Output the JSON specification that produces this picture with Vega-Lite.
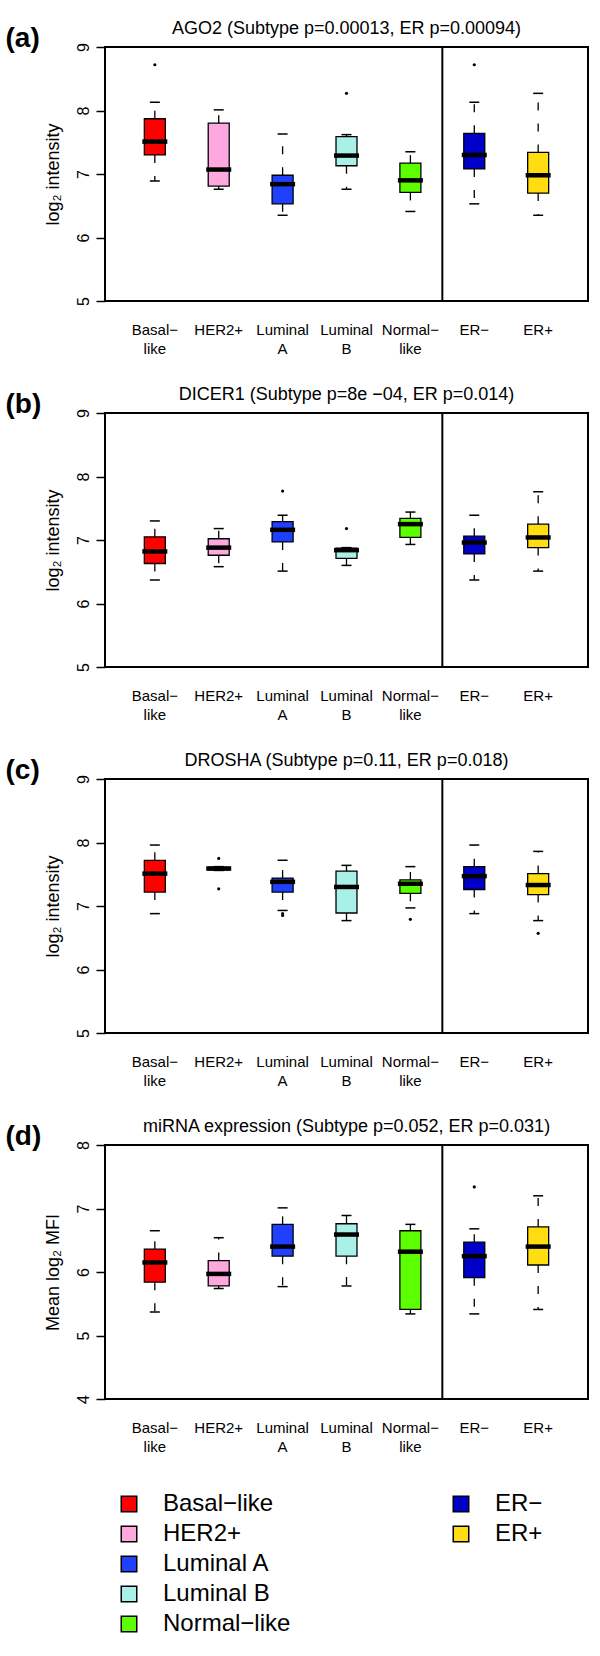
{
 "$schema": "https://vega.github.io/schema/vega-lite/v6.json",
 "padding": {"left": 4, "top": 19, "right": 5, "bottom": 5},
 "background": "white",
 "bounds": "flush",
 "spacing": 112,
 "datasets": {
  "boxes": [
   {"panel":"a","cat":"Basal−like","lo":6.89,"q1":7.30,"med":7.51,"q3":7.87,"hi":8.13},
   {"panel":"a","cat":"HER2+","lo":6.76,"q1":6.81,"med":7.07,"q3":7.80,"hi":8.01},
   {"panel":"a","cat":"Luminal A","lo":6.35,"q1":6.53,"med":6.84,"q3":6.98,"hi":7.63},
   {"panel":"a","cat":"Luminal B","lo":6.76,"q1":7.13,"med":7.29,"q3":7.59,"hi":7.62},
   {"panel":"a","cat":"Normal−like","lo":6.41,"q1":6.71,"med":6.90,"q3":7.17,"hi":7.35},
   {"panel":"a","cat":"ER−","lo":6.53,"q1":7.08,"med":7.30,"q3":7.64,"hi":8.13},
   {"panel":"a","cat":"ER+","lo":6.35,"q1":6.70,"med":6.98,"q3":7.34,"hi":8.27},
   {"panel":"b","cat":"Basal−like","lo":6.37,"q1":6.63,"med":6.82,"q3":7.05,"hi":7.30},
   {"panel":"b","cat":"HER2+","lo":6.58,"q1":6.76,"med":6.88,"q3":7.02,"hi":7.18},
   {"panel":"b","cat":"Luminal A","lo":6.51,"q1":6.97,"med":7.16,"q3":7.29,"hi":7.39},
   {"panel":"b","cat":"Luminal B","lo":6.60,"q1":6.71,"med":6.84,"q3":6.87,"hi":6.88},
   {"panel":"b","cat":"Normal−like","lo":6.93,"q1":7.04,"med":7.25,"q3":7.34,"hi":7.44},
   {"panel":"b","cat":"ER−","lo":6.37,"q1":6.78,"med":6.96,"q3":7.06,"hi":7.39},
   {"panel":"b","cat":"ER+","lo":6.51,"q1":6.88,"med":7.04,"q3":7.25,"hi":7.76},
   {"panel":"c","cat":"Basal−like","lo":6.88,"q1":7.22,"med":7.51,"q3":7.72,"hi":7.96},
   {"panel":"c","cat":"HER2+","lo":7.56,"q1":7.57,"med":7.59,"q3":7.61,"hi":7.62},
   {"panel":"c","cat":"Luminal A","lo":6.93,"q1":7.22,"med":7.38,"q3":7.44,"hi":7.72},
   {"panel":"c","cat":"Luminal B","lo":6.77,"q1":6.89,"med":7.30,"q3":7.55,"hi":7.64},
   {"panel":"c","cat":"Normal−like","lo":6.97,"q1":7.20,"med":7.35,"q3":7.41,"hi":7.62},
   {"panel":"c","cat":"ER−","lo":6.88,"q1":7.26,"med":7.47,"q3":7.62,"hi":7.96},
   {"panel":"c","cat":"ER+","lo":6.77,"q1":7.18,"med":7.33,"q3":7.51,"hi":7.86},
   {"panel":"d","cat":"Basal−like","lo":5.37,"q1":5.84,"med":6.15,"q3":6.36,"hi":6.65},
   {"panel":"d","cat":"HER2+","lo":5.74,"q1":5.78,"med":5.97,"q3":6.18,"hi":6.54},
   {"panel":"d","cat":"Luminal A","lo":5.77,"q1":6.25,"med":6.40,"q3":6.75,"hi":7.01},
   {"panel":"d","cat":"Luminal B","lo":5.78,"q1":6.25,"med":6.59,"q3":6.76,"hi":6.89},
   {"panel":"d","cat":"Normal−like","lo":5.34,"q1":5.41,"med":6.32,"q3":6.65,"hi":6.75},
   {"panel":"d","cat":"ER−","lo":5.34,"q1":5.91,"med":6.25,"q3":6.47,"hi":6.68},
   {"panel":"d","cat":"ER+","lo":5.41,"q1":6.11,"med":6.40,"q3":6.71,"hi":7.20}
  ],
  "outliers": [
   {"panel":"a","cat":"Basal−like","v":8.72},
   {"panel":"a","cat":"Luminal B","v":8.27},
   {"panel":"a","cat":"ER−","v":8.72},
   {"panel":"b","cat":"Luminal A","v":7.77},
   {"panel":"b","cat":"Luminal B","v":7.18},
   {"panel":"c","cat":"HER2+","v":7.75},
   {"panel":"c","cat":"HER2+","v":7.27},
   {"panel":"c","cat":"Luminal A","v":6.88},
   {"panel":"c","cat":"Luminal A","v":6.85},
   {"panel":"c","cat":"Normal−like","v":6.79},
   {"panel":"c","cat":"ER+","v":6.57},
   {"panel":"d","cat":"ER−","v":7.34}
  ],
  "legend": [
   {"label":"Basal−like","col":"S","row":1},
   {"label":"HER2+","col":"S","row":2},
   {"label":"Luminal A","col":"S","row":3},
   {"label":"Luminal B","col":"S","row":4},
   {"label":"Normal−like","col":"S","row":5},
   {"label":"ER−","col":"E","row":1},
   {"label":"ER+","col":"E","row":2}
  ]
 },
 "vconcat": [
  {
   "width": 483, "height": 254,
   "title": {"text": "AGO2 (Subtype p=0.00013, ER p=0.00094)", "fontSize": 18, "fontWeight": "normal", "anchor": "middle", "offset": -14, "color": "black"},
   "data": {"name": "boxes"},
   "transform": [{"filter": "datum.panel == 'a'"}],
   "encoding": {"x": {"field": "cat", "type": "nominal", "sort": null, "scale": {"type": "band", "domain": ["Basal−like","HER2+","Luminal A","Luminal B","Normal−like","ER−","ER+"], "paddingInner": 0, "paddingOuter": 0.28}, "axis": null}},
   "layer": [
    {"mark": {"type": "rule", "strokeDash": [8, 13], "strokeWidth": 1.3, "color": "black"}, "encoding": {"y": {"field": "q3", "type": "quantitative", "scale": {"domain": [5, 9], "nice": false, "zero": false}, "axis": {"values": [5, 6, 7, 8, 9], "title": "log₂ intensity", "labelAngle": -90, "labelAlign": "center", "labelBaseline": "alphabetic", "labelFontSize": 16, "labelPadding": 8, "labelFlush": false, "tickSize": 9, "tickWidth": 1.5, "tickColor": "black", "domain": false, "titleFontSize": 18, "titlePadding": 13}}, "y2": {"field": "hi"}}},
    {"mark": {"type": "rule", "strokeDash": [8, 13], "strokeWidth": 1.3, "color": "black"}, "encoding": {"y": {"field": "q1", "type": "quantitative", "scale": {"domain": [5, 9], "nice": false, "zero": false}, "axis": {"values": [5, 6, 7, 8, 9], "title": "log₂ intensity", "labelAngle": -90, "labelAlign": "center", "labelBaseline": "alphabetic", "labelFontSize": 16, "labelPadding": 8, "labelFlush": false, "tickSize": 9, "tickWidth": 1.5, "tickColor": "black", "domain": false, "titleFontSize": 18, "titlePadding": 13}}, "y2": {"field": "lo"}}},
    {"mark": {"type": "tick", "size": 10, "thickness": 1.5, "color": "black", "opacity": 1}, "encoding": {"y": {"field": "hi", "type": "quantitative", "scale": {"domain": [5, 9], "nice": false, "zero": false}, "axis": {"values": [5, 6, 7, 8, 9], "title": "log₂ intensity", "labelAngle": -90, "labelAlign": "center", "labelBaseline": "alphabetic", "labelFontSize": 16, "labelPadding": 8, "labelFlush": false, "tickSize": 9, "tickWidth": 1.5, "tickColor": "black", "domain": false, "titleFontSize": 18, "titlePadding": 13}}}},
    {"mark": {"type": "tick", "size": 10, "thickness": 1.5, "color": "black", "opacity": 1}, "encoding": {"y": {"field": "lo", "type": "quantitative", "scale": {"domain": [5, 9], "nice": false, "zero": false}, "axis": {"values": [5, 6, 7, 8, 9], "title": "log₂ intensity", "labelAngle": -90, "labelAlign": "center", "labelBaseline": "alphabetic", "labelFontSize": 16, "labelPadding": 8, "labelFlush": false, "tickSize": 9, "tickWidth": 1.5, "tickColor": "black", "domain": false, "titleFontSize": 18, "titlePadding": 13}}}},
    {"mark": {"type": "bar", "size": 21, "stroke": "black", "strokeWidth": 1.3}, "encoding": {
      "x": {"field": "cat", "type": "nominal", "sort": null, "scale": {"type": "band", "domain": ["Basal−like","HER2+","Luminal A","Luminal B","Normal−like","ER−","ER+"], "paddingInner": 0, "paddingOuter": 0.28}, "axis": {"orient": "bottom", "title": null, "ticks": false, "tickSize": 0, "domain": false, "labelAngle": 0, "labelPadding": 21, "labelFontSize": 15, "labelLineHeight": 19, "labelExpr": "indexof(datum.label, ' ') > 0 ? split(datum.label, ' ') : indexof(datum.label, '−like') > 0 ? [replace(datum.label, 'like', ''), 'like'] : datum.label"}},
      "y": {"field": "q1", "type": "quantitative", "scale": {"domain": [5, 9], "nice": false, "zero": false}, "axis": {"values": [5, 6, 7, 8, 9], "title": "log₂ intensity", "labelAngle": -90, "labelAlign": "center", "labelBaseline": "alphabetic", "labelFontSize": 16, "labelPadding": 8, "labelFlush": false, "tickSize": 9, "tickWidth": 1.5, "tickColor": "black", "domain": false, "titleFontSize": 18, "titlePadding": 13}},
      "y2": {"field": "q3"},
      "fill": {"field": "cat", "type": "nominal", "scale": {"domain": ["Basal−like","HER2+","Luminal A","Luminal B","Normal−like","ER−","ER+"], "range": ["#ff0000","#ffa8e0","#2040ff","#a8f0e8","#5cff00","#0000c8","#ffdd11"]}, "legend": null}}},
    {"mark": {"type": "tick", "size": 25, "thickness": 4.5, "color": "black", "opacity": 1}, "encoding": {"y": {"field": "med", "type": "quantitative", "scale": {"domain": [5, 9], "nice": false, "zero": false}, "axis": {"values": [5, 6, 7, 8, 9], "title": "log₂ intensity", "labelAngle": -90, "labelAlign": "center", "labelBaseline": "alphabetic", "labelFontSize": 16, "labelPadding": 8, "labelFlush": false, "tickSize": 9, "tickWidth": 1.5, "tickColor": "black", "domain": false, "titleFontSize": 18, "titlePadding": 13}}}},
    {"data": {"name": "outliers"}, "transform": [{"filter": "datum.panel == 'a'"}], "mark": {"type": "circle", "size": 10, "color": "black", "opacity": 1}, "encoding": {"y": {"field": "v", "type": "quantitative", "scale": {"domain": [5, 9], "nice": false, "zero": false}, "axis": {"values": [5, 6, 7, 8, 9], "title": "log₂ intensity", "labelAngle": -90, "labelAlign": "center", "labelBaseline": "alphabetic", "labelFontSize": 16, "labelPadding": 8, "labelFlush": false, "tickSize": 9, "tickWidth": 1.5, "tickColor": "black", "domain": false, "titleFontSize": 18, "titlePadding": 13}}}},
    {"data": {"values": [{"cat": "ER−"}]}, "mark": {"type": "rule", "strokeWidth": 2, "color": "black"}, "encoding": {"x": {"field": "cat", "type": "nominal", "sort": null, "bandPosition": 0, "scale": {"type": "band", "domain": ["Basal−like","HER2+","Luminal A","Luminal B","Normal−like","ER−","ER+"], "paddingInner": 0, "paddingOuter": 0.28}, "axis": {"orient": "top", "title": "(a)", "labels": false, "ticks": false, "domain": false, "titleX": -100, "titleY": -1, "titleAlign": "left", "titleBaseline": "alphabetic", "titleAngle": 0, "titleFontSize": 28, "titleFontWeight": "bold"}}}}
   ],
   "resolve": {"axis": {"x": "independent"}}
  },
  {
   "width": 483, "height": 254,
   "title": {"text": "DICER1 (Subtype p=8e −04, ER p=0.014)", "fontSize": 18, "fontWeight": "normal", "anchor": "middle", "offset": -14, "color": "black"},
   "data": {"name": "boxes"},
   "transform": [{"filter": "datum.panel == 'b'"}],
   "encoding": {"x": {"field": "cat", "type": "nominal", "sort": null, "scale": {"type": "band", "domain": ["Basal−like","HER2+","Luminal A","Luminal B","Normal−like","ER−","ER+"], "paddingInner": 0, "paddingOuter": 0.28}, "axis": null}},
   "layer": [
    {"mark": {"type": "rule", "strokeDash": [8, 13], "strokeWidth": 1.3, "color": "black"}, "encoding": {"y": {"field": "q3", "type": "quantitative", "scale": {"domain": [5, 9], "nice": false, "zero": false}, "axis": {"values": [5, 6, 7, 8, 9], "title": "log₂ intensity", "labelAngle": -90, "labelAlign": "center", "labelBaseline": "alphabetic", "labelFontSize": 16, "labelPadding": 8, "labelFlush": false, "tickSize": 9, "tickWidth": 1.5, "tickColor": "black", "domain": false, "titleFontSize": 18, "titlePadding": 13}}, "y2": {"field": "hi"}}},
    {"mark": {"type": "rule", "strokeDash": [8, 13], "strokeWidth": 1.3, "color": "black"}, "encoding": {"y": {"field": "q1", "type": "quantitative", "scale": {"domain": [5, 9], "nice": false, "zero": false}, "axis": {"values": [5, 6, 7, 8, 9], "title": "log₂ intensity", "labelAngle": -90, "labelAlign": "center", "labelBaseline": "alphabetic", "labelFontSize": 16, "labelPadding": 8, "labelFlush": false, "tickSize": 9, "tickWidth": 1.5, "tickColor": "black", "domain": false, "titleFontSize": 18, "titlePadding": 13}}, "y2": {"field": "lo"}}},
    {"mark": {"type": "tick", "size": 10, "thickness": 1.5, "color": "black", "opacity": 1}, "encoding": {"y": {"field": "hi", "type": "quantitative", "scale": {"domain": [5, 9], "nice": false, "zero": false}, "axis": {"values": [5, 6, 7, 8, 9], "title": "log₂ intensity", "labelAngle": -90, "labelAlign": "center", "labelBaseline": "alphabetic", "labelFontSize": 16, "labelPadding": 8, "labelFlush": false, "tickSize": 9, "tickWidth": 1.5, "tickColor": "black", "domain": false, "titleFontSize": 18, "titlePadding": 13}}}},
    {"mark": {"type": "tick", "size": 10, "thickness": 1.5, "color": "black", "opacity": 1}, "encoding": {"y": {"field": "lo", "type": "quantitative", "scale": {"domain": [5, 9], "nice": false, "zero": false}, "axis": {"values": [5, 6, 7, 8, 9], "title": "log₂ intensity", "labelAngle": -90, "labelAlign": "center", "labelBaseline": "alphabetic", "labelFontSize": 16, "labelPadding": 8, "labelFlush": false, "tickSize": 9, "tickWidth": 1.5, "tickColor": "black", "domain": false, "titleFontSize": 18, "titlePadding": 13}}}},
    {"mark": {"type": "bar", "size": 21, "stroke": "black", "strokeWidth": 1.3}, "encoding": {
      "x": {"field": "cat", "type": "nominal", "sort": null, "scale": {"type": "band", "domain": ["Basal−like","HER2+","Luminal A","Luminal B","Normal−like","ER−","ER+"], "paddingInner": 0, "paddingOuter": 0.28}, "axis": {"orient": "bottom", "title": null, "ticks": false, "tickSize": 0, "domain": false, "labelAngle": 0, "labelPadding": 21, "labelFontSize": 15, "labelLineHeight": 19, "labelExpr": "indexof(datum.label, ' ') > 0 ? split(datum.label, ' ') : indexof(datum.label, '−like') > 0 ? [replace(datum.label, 'like', ''), 'like'] : datum.label"}},
      "y": {"field": "q1", "type": "quantitative", "scale": {"domain": [5, 9], "nice": false, "zero": false}, "axis": {"values": [5, 6, 7, 8, 9], "title": "log₂ intensity", "labelAngle": -90, "labelAlign": "center", "labelBaseline": "alphabetic", "labelFontSize": 16, "labelPadding": 8, "labelFlush": false, "tickSize": 9, "tickWidth": 1.5, "tickColor": "black", "domain": false, "titleFontSize": 18, "titlePadding": 13}},
      "y2": {"field": "q3"},
      "fill": {"field": "cat", "type": "nominal", "scale": {"domain": ["Basal−like","HER2+","Luminal A","Luminal B","Normal−like","ER−","ER+"], "range": ["#ff0000","#ffa8e0","#2040ff","#a8f0e8","#5cff00","#0000c8","#ffdd11"]}, "legend": null}}},
    {"mark": {"type": "tick", "size": 25, "thickness": 4.5, "color": "black", "opacity": 1}, "encoding": {"y": {"field": "med", "type": "quantitative", "scale": {"domain": [5, 9], "nice": false, "zero": false}, "axis": {"values": [5, 6, 7, 8, 9], "title": "log₂ intensity", "labelAngle": -90, "labelAlign": "center", "labelBaseline": "alphabetic", "labelFontSize": 16, "labelPadding": 8, "labelFlush": false, "tickSize": 9, "tickWidth": 1.5, "tickColor": "black", "domain": false, "titleFontSize": 18, "titlePadding": 13}}}},
    {"data": {"name": "outliers"}, "transform": [{"filter": "datum.panel == 'b'"}], "mark": {"type": "circle", "size": 10, "color": "black", "opacity": 1}, "encoding": {"y": {"field": "v", "type": "quantitative", "scale": {"domain": [5, 9], "nice": false, "zero": false}, "axis": {"values": [5, 6, 7, 8, 9], "title": "log₂ intensity", "labelAngle": -90, "labelAlign": "center", "labelBaseline": "alphabetic", "labelFontSize": 16, "labelPadding": 8, "labelFlush": false, "tickSize": 9, "tickWidth": 1.5, "tickColor": "black", "domain": false, "titleFontSize": 18, "titlePadding": 13}}}},
    {"data": {"values": [{"cat": "ER−"}]}, "mark": {"type": "rule", "strokeWidth": 2, "color": "black"}, "encoding": {"x": {"field": "cat", "type": "nominal", "sort": null, "bandPosition": 0, "scale": {"type": "band", "domain": ["Basal−like","HER2+","Luminal A","Luminal B","Normal−like","ER−","ER+"], "paddingInner": 0, "paddingOuter": 0.28}, "axis": {"orient": "top", "title": "(b)", "labels": false, "ticks": false, "domain": false, "titleX": -100, "titleY": -1, "titleAlign": "left", "titleBaseline": "alphabetic", "titleAngle": 0, "titleFontSize": 28, "titleFontWeight": "bold"}}}}
   ],
   "resolve": {"axis": {"x": "independent"}}
  },
  {
   "width": 483, "height": 254,
   "title": {"text": "DROSHA (Subtype p=0.11, ER p=0.018)", "fontSize": 18, "fontWeight": "normal", "anchor": "middle", "offset": -14, "color": "black"},
   "data": {"name": "boxes"},
   "transform": [{"filter": "datum.panel == 'c'"}],
   "encoding": {"x": {"field": "cat", "type": "nominal", "sort": null, "scale": {"type": "band", "domain": ["Basal−like","HER2+","Luminal A","Luminal B","Normal−like","ER−","ER+"], "paddingInner": 0, "paddingOuter": 0.28}, "axis": null}},
   "layer": [
    {"mark": {"type": "rule", "strokeDash": [8, 13], "strokeWidth": 1.3, "color": "black"}, "encoding": {"y": {"field": "q3", "type": "quantitative", "scale": {"domain": [5, 9], "nice": false, "zero": false}, "axis": {"values": [5, 6, 7, 8, 9], "title": "log₂ intensity", "labelAngle": -90, "labelAlign": "center", "labelBaseline": "alphabetic", "labelFontSize": 16, "labelPadding": 8, "labelFlush": false, "tickSize": 9, "tickWidth": 1.5, "tickColor": "black", "domain": false, "titleFontSize": 18, "titlePadding": 13}}, "y2": {"field": "hi"}}},
    {"mark": {"type": "rule", "strokeDash": [8, 13], "strokeWidth": 1.3, "color": "black"}, "encoding": {"y": {"field": "q1", "type": "quantitative", "scale": {"domain": [5, 9], "nice": false, "zero": false}, "axis": {"values": [5, 6, 7, 8, 9], "title": "log₂ intensity", "labelAngle": -90, "labelAlign": "center", "labelBaseline": "alphabetic", "labelFontSize": 16, "labelPadding": 8, "labelFlush": false, "tickSize": 9, "tickWidth": 1.5, "tickColor": "black", "domain": false, "titleFontSize": 18, "titlePadding": 13}}, "y2": {"field": "lo"}}},
    {"mark": {"type": "tick", "size": 10, "thickness": 1.5, "color": "black", "opacity": 1}, "encoding": {"y": {"field": "hi", "type": "quantitative", "scale": {"domain": [5, 9], "nice": false, "zero": false}, "axis": {"values": [5, 6, 7, 8, 9], "title": "log₂ intensity", "labelAngle": -90, "labelAlign": "center", "labelBaseline": "alphabetic", "labelFontSize": 16, "labelPadding": 8, "labelFlush": false, "tickSize": 9, "tickWidth": 1.5, "tickColor": "black", "domain": false, "titleFontSize": 18, "titlePadding": 13}}}},
    {"mark": {"type": "tick", "size": 10, "thickness": 1.5, "color": "black", "opacity": 1}, "encoding": {"y": {"field": "lo", "type": "quantitative", "scale": {"domain": [5, 9], "nice": false, "zero": false}, "axis": {"values": [5, 6, 7, 8, 9], "title": "log₂ intensity", "labelAngle": -90, "labelAlign": "center", "labelBaseline": "alphabetic", "labelFontSize": 16, "labelPadding": 8, "labelFlush": false, "tickSize": 9, "tickWidth": 1.5, "tickColor": "black", "domain": false, "titleFontSize": 18, "titlePadding": 13}}}},
    {"mark": {"type": "bar", "size": 21, "stroke": "black", "strokeWidth": 1.3}, "encoding": {
      "x": {"field": "cat", "type": "nominal", "sort": null, "scale": {"type": "band", "domain": ["Basal−like","HER2+","Luminal A","Luminal B","Normal−like","ER−","ER+"], "paddingInner": 0, "paddingOuter": 0.28}, "axis": {"orient": "bottom", "title": null, "ticks": false, "tickSize": 0, "domain": false, "labelAngle": 0, "labelPadding": 21, "labelFontSize": 15, "labelLineHeight": 19, "labelExpr": "indexof(datum.label, ' ') > 0 ? split(datum.label, ' ') : indexof(datum.label, '−like') > 0 ? [replace(datum.label, 'like', ''), 'like'] : datum.label"}},
      "y": {"field": "q1", "type": "quantitative", "scale": {"domain": [5, 9], "nice": false, "zero": false}, "axis": {"values": [5, 6, 7, 8, 9], "title": "log₂ intensity", "labelAngle": -90, "labelAlign": "center", "labelBaseline": "alphabetic", "labelFontSize": 16, "labelPadding": 8, "labelFlush": false, "tickSize": 9, "tickWidth": 1.5, "tickColor": "black", "domain": false, "titleFontSize": 18, "titlePadding": 13}},
      "y2": {"field": "q3"},
      "fill": {"field": "cat", "type": "nominal", "scale": {"domain": ["Basal−like","HER2+","Luminal A","Luminal B","Normal−like","ER−","ER+"], "range": ["#ff0000","#ffa8e0","#2040ff","#a8f0e8","#5cff00","#0000c8","#ffdd11"]}, "legend": null}}},
    {"mark": {"type": "tick", "size": 25, "thickness": 4.5, "color": "black", "opacity": 1}, "encoding": {"y": {"field": "med", "type": "quantitative", "scale": {"domain": [5, 9], "nice": false, "zero": false}, "axis": {"values": [5, 6, 7, 8, 9], "title": "log₂ intensity", "labelAngle": -90, "labelAlign": "center", "labelBaseline": "alphabetic", "labelFontSize": 16, "labelPadding": 8, "labelFlush": false, "tickSize": 9, "tickWidth": 1.5, "tickColor": "black", "domain": false, "titleFontSize": 18, "titlePadding": 13}}}},
    {"data": {"name": "outliers"}, "transform": [{"filter": "datum.panel == 'c'"}], "mark": {"type": "circle", "size": 10, "color": "black", "opacity": 1}, "encoding": {"y": {"field": "v", "type": "quantitative", "scale": {"domain": [5, 9], "nice": false, "zero": false}, "axis": {"values": [5, 6, 7, 8, 9], "title": "log₂ intensity", "labelAngle": -90, "labelAlign": "center", "labelBaseline": "alphabetic", "labelFontSize": 16, "labelPadding": 8, "labelFlush": false, "tickSize": 9, "tickWidth": 1.5, "tickColor": "black", "domain": false, "titleFontSize": 18, "titlePadding": 13}}}},
    {"data": {"values": [{"cat": "ER−"}]}, "mark": {"type": "rule", "strokeWidth": 2, "color": "black"}, "encoding": {"x": {"field": "cat", "type": "nominal", "sort": null, "bandPosition": 0, "scale": {"type": "band", "domain": ["Basal−like","HER2+","Luminal A","Luminal B","Normal−like","ER−","ER+"], "paddingInner": 0, "paddingOuter": 0.28}, "axis": {"orient": "top", "title": "(c)", "labels": false, "ticks": false, "domain": false, "titleX": -100, "titleY": -1, "titleAlign": "left", "titleBaseline": "alphabetic", "titleAngle": 0, "titleFontSize": 28, "titleFontWeight": "bold"}}}}
   ],
   "resolve": {"axis": {"x": "independent"}}
  },
  {
   "width": 483, "height": 254,
   "title": {"text": "miRNA expression (Subtype p=0.052, ER p=0.031)", "fontSize": 18, "fontWeight": "normal", "anchor": "middle", "offset": -14, "color": "black"},
   "data": {"name": "boxes"},
   "transform": [{"filter": "datum.panel == 'd'"}],
   "encoding": {"x": {"field": "cat", "type": "nominal", "sort": null, "scale": {"type": "band", "domain": ["Basal−like","HER2+","Luminal A","Luminal B","Normal−like","ER−","ER+"], "paddingInner": 0, "paddingOuter": 0.28}, "axis": null}},
   "layer": [
    {"mark": {"type": "rule", "strokeDash": [8, 13], "strokeWidth": 1.3, "color": "black"}, "encoding": {"y": {"field": "q3", "type": "quantitative", "scale": {"domain": [4, 8], "nice": false, "zero": false}, "axis": {"values": [4, 5, 6, 7, 8], "title": "Mean log₂ MFI", "labelAngle": -90, "labelAlign": "center", "labelBaseline": "alphabetic", "labelFontSize": 16, "labelPadding": 8, "labelFlush": false, "tickSize": 9, "tickWidth": 1.5, "tickColor": "black", "domain": false, "titleFontSize": 18, "titlePadding": 13}}, "y2": {"field": "hi"}}},
    {"mark": {"type": "rule", "strokeDash": [8, 13], "strokeWidth": 1.3, "color": "black"}, "encoding": {"y": {"field": "q1", "type": "quantitative", "scale": {"domain": [4, 8], "nice": false, "zero": false}, "axis": {"values": [4, 5, 6, 7, 8], "title": "Mean log₂ MFI", "labelAngle": -90, "labelAlign": "center", "labelBaseline": "alphabetic", "labelFontSize": 16, "labelPadding": 8, "labelFlush": false, "tickSize": 9, "tickWidth": 1.5, "tickColor": "black", "domain": false, "titleFontSize": 18, "titlePadding": 13}}, "y2": {"field": "lo"}}},
    {"mark": {"type": "tick", "size": 10, "thickness": 1.5, "color": "black", "opacity": 1}, "encoding": {"y": {"field": "hi", "type": "quantitative", "scale": {"domain": [4, 8], "nice": false, "zero": false}, "axis": {"values": [4, 5, 6, 7, 8], "title": "Mean log₂ MFI", "labelAngle": -90, "labelAlign": "center", "labelBaseline": "alphabetic", "labelFontSize": 16, "labelPadding": 8, "labelFlush": false, "tickSize": 9, "tickWidth": 1.5, "tickColor": "black", "domain": false, "titleFontSize": 18, "titlePadding": 13}}}},
    {"mark": {"type": "tick", "size": 10, "thickness": 1.5, "color": "black", "opacity": 1}, "encoding": {"y": {"field": "lo", "type": "quantitative", "scale": {"domain": [4, 8], "nice": false, "zero": false}, "axis": {"values": [4, 5, 6, 7, 8], "title": "Mean log₂ MFI", "labelAngle": -90, "labelAlign": "center", "labelBaseline": "alphabetic", "labelFontSize": 16, "labelPadding": 8, "labelFlush": false, "tickSize": 9, "tickWidth": 1.5, "tickColor": "black", "domain": false, "titleFontSize": 18, "titlePadding": 13}}}},
    {"mark": {"type": "bar", "size": 21, "stroke": "black", "strokeWidth": 1.3}, "encoding": {
      "x": {"field": "cat", "type": "nominal", "sort": null, "scale": {"type": "band", "domain": ["Basal−like","HER2+","Luminal A","Luminal B","Normal−like","ER−","ER+"], "paddingInner": 0, "paddingOuter": 0.28}, "axis": {"orient": "bottom", "title": null, "ticks": false, "tickSize": 0, "domain": false, "labelAngle": 0, "labelPadding": 21, "labelFontSize": 15, "labelLineHeight": 19, "labelExpr": "indexof(datum.label, ' ') > 0 ? split(datum.label, ' ') : indexof(datum.label, '−like') > 0 ? [replace(datum.label, 'like', ''), 'like'] : datum.label"}},
      "y": {"field": "q1", "type": "quantitative", "scale": {"domain": [4, 8], "nice": false, "zero": false}, "axis": {"values": [4, 5, 6, 7, 8], "title": "Mean log₂ MFI", "labelAngle": -90, "labelAlign": "center", "labelBaseline": "alphabetic", "labelFontSize": 16, "labelPadding": 8, "labelFlush": false, "tickSize": 9, "tickWidth": 1.5, "tickColor": "black", "domain": false, "titleFontSize": 18, "titlePadding": 13}},
      "y2": {"field": "q3"},
      "fill": {"field": "cat", "type": "nominal", "scale": {"domain": ["Basal−like","HER2+","Luminal A","Luminal B","Normal−like","ER−","ER+"], "range": ["#ff0000","#ffa8e0","#2040ff","#a8f0e8","#5cff00","#0000c8","#ffdd11"]}, "legend": null}}},
    {"mark": {"type": "tick", "size": 25, "thickness": 4.5, "color": "black", "opacity": 1}, "encoding": {"y": {"field": "med", "type": "quantitative", "scale": {"domain": [4, 8], "nice": false, "zero": false}, "axis": {"values": [4, 5, 6, 7, 8], "title": "Mean log₂ MFI", "labelAngle": -90, "labelAlign": "center", "labelBaseline": "alphabetic", "labelFontSize": 16, "labelPadding": 8, "labelFlush": false, "tickSize": 9, "tickWidth": 1.5, "tickColor": "black", "domain": false, "titleFontSize": 18, "titlePadding": 13}}}},
    {"data": {"name": "outliers"}, "transform": [{"filter": "datum.panel == 'd'"}], "mark": {"type": "circle", "size": 10, "color": "black", "opacity": 1}, "encoding": {"y": {"field": "v", "type": "quantitative", "scale": {"domain": [4, 8], "nice": false, "zero": false}, "axis": {"values": [4, 5, 6, 7, 8], "title": "Mean log₂ MFI", "labelAngle": -90, "labelAlign": "center", "labelBaseline": "alphabetic", "labelFontSize": 16, "labelPadding": 8, "labelFlush": false, "tickSize": 9, "tickWidth": 1.5, "tickColor": "black", "domain": false, "titleFontSize": 18, "titlePadding": 13}}}},
    {"data": {"values": [{"cat": "ER−"}]}, "mark": {"type": "rule", "strokeWidth": 2, "color": "black"}, "encoding": {"x": {"field": "cat", "type": "nominal", "sort": null, "bandPosition": 0, "scale": {"type": "band", "domain": ["Basal−like","HER2+","Luminal A","Luminal B","Normal−like","ER−","ER+"], "paddingInner": 0, "paddingOuter": 0.28}, "axis": {"orient": "top", "title": "(d)", "labels": false, "ticks": false, "domain": false, "titleX": -100, "titleY": -1, "titleAlign": "left", "titleBaseline": "alphabetic", "titleAngle": 0, "titleFontSize": 28, "titleFontWeight": "bold"}}}}
   ],
   "resolve": {"axis": {"x": "independent"}}
  },
  {
   "width": 380, "height": 120,
   "view": {"stroke": null},
   "data": {"name": "legend"},
   "encoding": {
    "x": {"field": "col", "type": "nominal", "sort": null, "scale": {"type": "point", "domain": ["S", "E"], "padding": 0.0723}, "axis": null},
    "y": {"field": "row", "type": "quantitative", "scale": {"domain": [1.2333, 5.2333], "reverse": true, "nice": false, "zero": false}, "axis": null}
   },
   "layer": [
    {"mark": {"type": "point", "shape": "square", "filled": true, "size": 240, "stroke": "black", "strokeWidth": 1.5, "opacity": 1}, "encoding": {"fill": {"field": "label", "type": "nominal", "scale": {"domain": ["Basal−like","HER2+","Luminal A","Luminal B","Normal−like","ER−","ER+"], "range": ["#ff0000","#ffa8e0","#2040ff","#a8f0e8","#5cff00","#0000c8","#ffdd11"]}, "legend": null}}},
    {"mark": {"type": "text", "align": "left", "baseline": "middle", "dx": 34, "fontSize": 24, "color": "black"}, "encoding": {"text": {"field": "label"}}}
   ]
  }
 ],
 "resolve": {"scale": {"x": "independent", "y": "independent"}},
 "config": {
  "font": "Liberation Sans",
  "view": {"stroke": "black", "strokeWidth": 2},
  "axis": {"labelColor": "black", "titleColor": "black", "labelFont": "Liberation Sans", "titleFont": "Liberation Sans", "titleFontWeight": "normal", "grid": false},
  "title": {"font": "Liberation Sans", "color": "black"},
  "text": {"font": "Liberation Sans"}
 }
}
